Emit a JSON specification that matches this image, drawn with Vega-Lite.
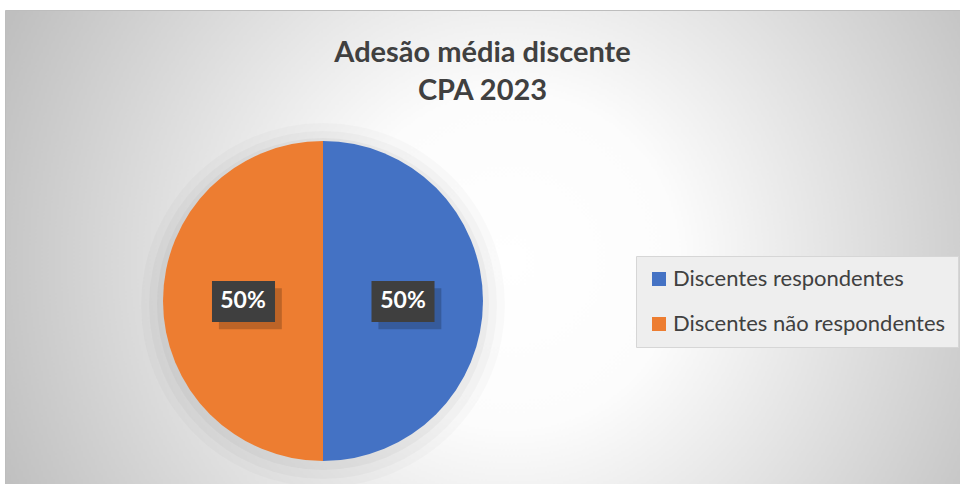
{
  "$schema": "https://vega.github.io/schema/vega-lite/v6.json",
  "width": 955,
  "height": 474,
  "autosize": {"type": "none"},
  "padding": {"left": 5, "top": 10, "right": 0, "bottom": 0},
  "background": "#ffffff",
  "config": {
    "font": "Lato",
    "view": {
      "stroke": "#bdbdbd",
      "strokeWidth": 1,
      "fill": {
        "gradient": "radial",
        "x1": 0.529, "y1": 0.514, "r1": 0,
        "x2": 0.529, "y2": 0.514, "r2": 0.58,
        "stops": [
          {"offset": 0, "color": "#ffffff"},
          {"offset": 0.3, "color": "#fcfcfc"},
          {"offset": 1, "color": "#bfbfbf"}
        ]
      }
    }
  },
  "title": {
    "text": ["Adesão média discente", "CPA 2023"],
    "fontSize": 29,
    "font": "Lato",
    "fontWeight": "bold",
    "color": "#404040",
    "anchor": "middle",
    "frame": "group",
    "lineHeight": 38,
    "offset": -96
  },
  "data": {
    "values": [
      {"categoria": "Discentes respondentes", "valor": 50, "rotulo": "50%"},
      {"categoria": "Discentes não respondentes", "valor": 50, "rotulo": "50%"}
    ]
  },
  "layer": [
    {
      "mark": {"type": "arc", "x": 318, "y": 295, "outerRadius": 182, "color": "#000000", "opacity": 0.02},
      "encoding": {
        "theta": {"field": "valor", "type": "quantitative", "stack": true},
        "order": {"field": "categoria", "sort": "descending"}
      }
    },
    {
      "mark": {"type": "arc", "x": 318, "y": 295, "outerRadius": 174, "color": "#000000", "opacity": 0.025},
      "encoding": {
        "theta": {"field": "valor", "type": "quantitative", "stack": true},
        "order": {"field": "categoria", "sort": "descending"}
      }
    },
    {
      "mark": {"type": "arc", "x": 318, "y": 294, "outerRadius": 166, "color": "#000000", "opacity": 0.03},
      "encoding": {
        "theta": {"field": "valor", "type": "quantitative", "stack": true},
        "order": {"field": "categoria", "sort": "descending"}
      }
    },
    {
      "mark": {"type": "arc", "x": 318, "y": 291, "outerRadius": 160},
      "encoding": {
        "theta": {"field": "valor", "type": "quantitative", "stack": true},
        "order": {"field": "categoria", "sort": "descending"},
        "color": {
          "field": "categoria",
          "type": "nominal",
          "scale": {
            "domain": ["Discentes respondentes", "Discentes não respondentes"],
            "range": ["#4472C4", "#ED7D31"]
          },
          "legend": {
            "orient": "none",
            "legendX": 631,
            "legendY": 246,
            "title": null,
            "symbolType": "square",
            "symbolSize": 196,
            "symbolStrokeWidth": 0,
            "labelFontSize": 22,
            "labelFont": "Lato",
            "labelColor": "#404040",
            "labelOffset": 3,
            "labelLimit": 400,
            "rowPadding": 23,
            "padding": 12,
            "fillColor": "#eeeeee",
            "strokeColor": "#d6d6d6"
          }
        }
      }
    },
    {
      "mark": {"type": "point", "shape": "M-1.2,-0.65H1.87V1.35H-1.2Z", "size": 1681, "filled": true, "color": "#000000", "opacity": 0.2, "y": 291.5},
      "encoding": {
        "x": {
          "field": "categoria",
          "type": "nominal",
          "scale": {"type": "point", "padding": 0, "domain": ["Discentes respondentes", "Discentes não respondentes"], "range": [398, 238.5]},
          "axis": null
        }
      }
    },
    {
      "mark": {"type": "point", "shape": "M-1.537,-1H1.537V1H-1.537Z", "size": 1681, "filled": true, "color": "#3f3f3f", "opacity": 1, "y": 291.5},
      "encoding": {
        "x": {
          "field": "categoria",
          "type": "nominal",
          "scale": {"type": "point", "padding": 0, "domain": ["Discentes respondentes", "Discentes não respondentes"], "range": [398, 238.5]},
          "axis": null
        }
      }
    },
    {
      "mark": {"type": "text", "x": 318, "y": 291, "radius": 80, "fontSize": 23, "fontWeight": "bold", "color": "#ffffff", "font": "Lato", "baseline": "middle", "align": "center"},
      "encoding": {
        "theta": {"field": "valor", "type": "quantitative", "stack": true},
        "order": {"field": "categoria", "sort": "descending"},
        "text": {"field": "rotulo", "type": "nominal"}
      }
    }
  ]
}
